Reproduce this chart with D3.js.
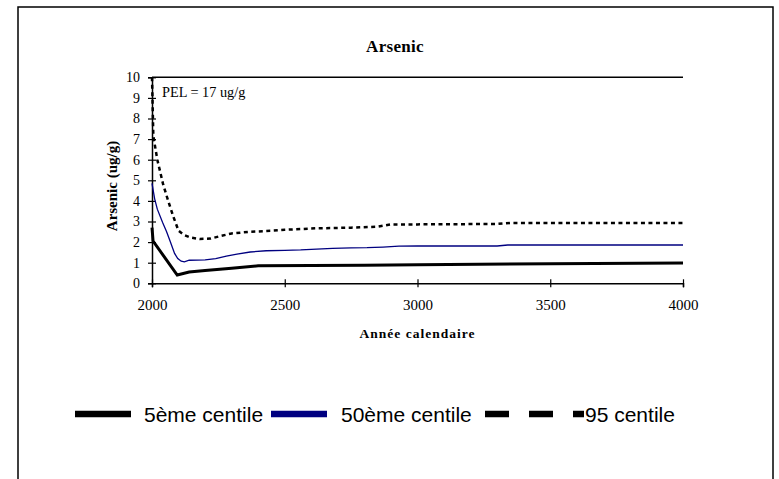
<!DOCTYPE html>
<html>
<head>
<meta charset="utf-8">
<script src="https://cdn.jsdelivr.net/npm/d3@7/dist/d3.min.js"></script>
<style>
  html, body { margin: 0; padding: 0; background: #fff; }
  svg { display: block; }
</style>
</head>
<body>
<div id="chart"></div>
<script>
// ---------- DATA ----------
const chartTitle = "Arsenic";
const yAxisTitle = "Arsenic (ug/g)";
const xAxisTitle = "Année calendaire";
const noteText = "PEL = 17 ug/g";

const xTicks = [2000, 2500, 3000, 3500, 4000];
const yTicks = [0, 1, 2, 3, 4, 5, 6, 7, 8, 9, 10];

const seriesNames = ["5ème centile", "50ème centile", "95 centile"];

const p5Years  = [2000, 2004, 2095, 2140, 2200, 2300, 2400, 2600, 2800, 3000, 3500, 4000];
const p5Values = [2.7, 2.05, 0.40, 0.55, 0.62, 0.73, 0.85, 0.86, 0.88, 0.90, 0.95, 0.98];

const p50Years  = [2000, 2010, 2020, 2040, 2055, 2068, 2085, 2097, 2110, 2122, 2140, 2200, 2240, 2280, 2320, 2370, 2430, 2500, 2560, 2620, 2680, 2750, 2810, 2870, 2930, 3000, 3300, 3340, 4000];
const p50Values = [4.85, 4.1, 3.6, 2.95, 2.5, 2.05, 1.45, 1.2, 1.07, 1.04, 1.12, 1.14, 1.2, 1.32, 1.42, 1.52, 1.58, 1.6, 1.62, 1.66, 1.7, 1.72, 1.73, 1.76, 1.8, 1.81, 1.81, 1.86, 1.86];

const p95Years  = [2000, 2005, 2020, 2042, 2061, 2080, 2100, 2120, 2145, 2180, 2220, 2260, 2300, 2370, 2450, 2500, 2620, 2750, 2850, 2900, 3000, 3300, 3350, 4000];
const p95Values = [10, 7.15, 6.0, 4.8, 4.0, 3.25, 2.55, 2.35, 2.22, 2.15, 2.17, 2.3, 2.42, 2.5, 2.55, 2.6, 2.67, 2.7, 2.75, 2.86, 2.86, 2.88, 2.93, 2.93];

// ---------- LAYOUT ----------
const W = 779, H = 479;
const plot = { left: 152, right: 683, top: 77.3, bottom: 283.3 };

const svg = d3.select("#chart").append("svg")
  .attr("width", W).attr("height", H);

// outer chart frame (extends below the visible window)
svg.append("rect")
  .attr("x", 18).attr("y", 7)
  .attr("width", 755).attr("height", 520)
  .attr("fill", "none").attr("stroke", "#000").attr("stroke-width", 1.5);

const x = d3.scaleLinear().domain([2000, 4000]).range([plot.left, plot.right]);
const y = d3.scaleLinear().domain([0, 10]).range([plot.bottom, plot.top]);

const serif = "'Liberation Serif', 'Times New Roman', serif";
const sans = "'Liberation Sans', Arial, sans-serif";

// Title
svg.append("text")
  .attr("x", 395).attr("y", 52)
  .attr("text-anchor", "middle")
  .attr("font-family", serif).attr("font-weight", "bold")
  .attr("font-size", 17).attr("letter-spacing", 0.3)
  .text(chartTitle);

// top plot border
svg.append("line")
  .attr("x1", plot.left).attr("x2", plot.right)
  .attr("y1", plot.top).attr("y2", plot.top)
  .attr("stroke", "#000").attr("stroke-width", 1.5);

// Y axis
const yAxis = d3.axisLeft(y).tickValues(yTicks).tickSize(4).tickPadding(10);
const gy = svg.append("g")
  .attr("transform", `translate(${plot.left},0)`)
  .call(yAxis);
gy.select(".domain").attr("stroke-width", 1.5);
gy.selectAll(".tick line").attr("x2", 4).attr("x1", -4).attr("stroke-width", 1.2);
gy.selectAll(".tick text")
  .attr("font-family", serif).attr("font-size", 14).attr("fill", "#000")
  .attr("x", -12);

// X axis
const xAxis = d3.axisBottom(x).tickValues(xTicks).tickFormat(d3.format("d")).tickSize(4).tickPadding(12);
const gx = svg.append("g")
  .attr("transform", `translate(0,${plot.bottom})`)
  .call(xAxis);
gx.select(".domain").attr("stroke-width", 1.5);
gx.selectAll(".tick line").attr("y1", -4).attr("y2", 4).attr("stroke-width", 1.2);
gx.selectAll(".tick text")
  .attr("font-family", serif).attr("font-size", 15).attr("fill", "#000");

// Axis titles
svg.append("text")
  .attr("transform", `translate(117,186) rotate(-90)`)
  .attr("text-anchor", "middle")
  .attr("font-family", serif).attr("font-weight", "bold").attr("font-size", 15)
  .text(yAxisTitle);

svg.append("text")
  .attr("x", (plot.left + plot.right) / 2).attr("y", 338)
  .attr("text-anchor", "middle")
  .attr("font-family", serif).attr("font-weight", "bold").attr("font-size", 13.5)
  .attr("letter-spacing", 1)
  .text(xAxisTitle);

// Note
svg.append("text")
  .attr("x", 162).attr("y", 97)
  .attr("font-family", serif).attr("font-size", 14.3)
  .text(noteText);

// Lines
const line = d3.line().x(d => x(d[0])).y(d => y(d[1]));
const zip = (a, b) => a.map((v, i) => [v, b[i]]);

svg.append("path")
  .datum(zip(p95Years, p95Values))
  .attr("d", line)
  .attr("fill", "none").attr("stroke", "#000")
  .attr("stroke-width", 2.5).attr("stroke-dasharray", "4,3.5");

svg.append("path")
  .datum(zip(p50Years, p50Values))
  .attr("d", line)
  .attr("fill", "none").attr("stroke", "#000080")
  .attr("stroke-width", 1.3);

svg.append("path")
  .datum(zip(p5Years, p5Values))
  .attr("d", line)
  .attr("fill", "none").attr("stroke", "#000")
  .attr("stroke-width", 3).attr("stroke-linejoin", "miter");

// Legend
const legendY = 414;
const legendItems = [
  { name: seriesNames[0], x1: 75, x2: 131, tx: 144, stroke: "#000", dash: null },
  { name: seriesNames[1], x1: 271, x2: 327, tx: 341, stroke: "#000080", dash: null },
  { name: seriesNames[2], x1: 485, x2: 584, tx: 585, stroke: "#000", dash: "24,20" }
];
const lg = svg.append("g");
legendItems.forEach(it => {
  lg.append("line")
    .attr("x1", it.x1).attr("x2", it.x2)
    .attr("y1", legendY).attr("y2", legendY)
    .attr("stroke", it.stroke).attr("stroke-width", 6.5)
    .attr("stroke-dasharray", it.dash);
  lg.append("text")
    .attr("x", it.tx).attr("y", legendY + 7.5)
    .attr("font-family", sans).attr("font-size", 21)
    .text(it.name);
});
</script>
</body>
</html>
